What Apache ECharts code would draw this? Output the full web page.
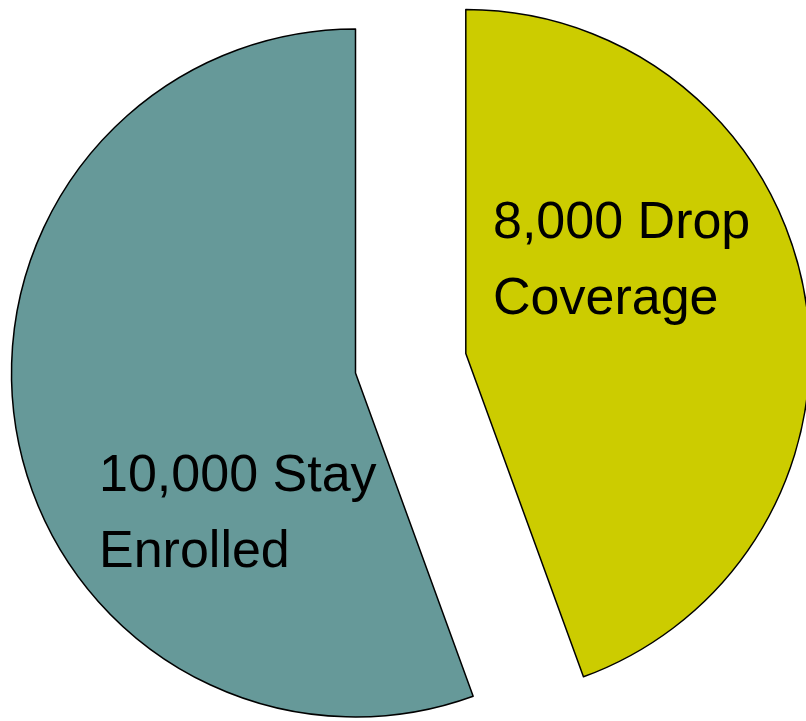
<!DOCTYPE html>
<html>
<head>
<meta charset="utf-8">
<script src="https://cdn.jsdelivr.net/npm/echarts@6/dist/echarts.min.js"></script>
<style>
	html,body{margin:0; padding:0; background:#fff;}
	#chart{width:806px; height:721px;}
</style>
</head>
<body>
<div id="chart"></div>
<script>
	// 数据
	var names = ['Drop Coverage', 'Stay Enrolled'];
	var values = [8000, 10000];
	var labels = ['8,000 Drop\nCoverage', '10,000 Stay\nEnrolled'];
	var colors = ['#CCCC00', '#669999'];

	// where each label sits (left, middle of the text block)
	// the selected slice ignores labelLayout, so labels are drawn as graphic text
	var labelPos = [[493, 262], [99, 515]];

	var myChart = echarts.init(document.getElementById('chart'));

	var data = values.map(function(v, i){
		return {
			value: v,
			name: names[i],
			selected: i === 0,
			itemStyle: {color: colors[i]}
		};
	});

	var option = {
		backgroundColor: '#ffffff',
		animation: false,
		graphic: labels.map(function(t, i){
			return {
				type: 'text',
				x: labelPos[i][0],
				y: labelPos[i][1],
				z: 100,
				silent: true,
				style: {
					text: t,
					fill: '#000000',
					font: '52px "Liberation Sans", Arial, sans-serif',
					lineHeight: 76,
					textAlign: 'left',
					textVerticalAlign: 'middle'
				}
			};
		}),
		series: [{
			type: 'pie',
			center: [355.5, 373],
			radius: [0, 344],
			startAngle: 90,
			clockwise: true,
			selectedMode: 'single',
			selectedOffset: 112,
			emphasis: {disabled: true},
			itemStyle: {
				borderColor: '#000000',
				borderWidth: 1.5
			},
			label: {show: false},
			labelLine: {show: false},
			data: data
		}]
	};

	myChart.setOption(option);
</script>
</body>
</html>
